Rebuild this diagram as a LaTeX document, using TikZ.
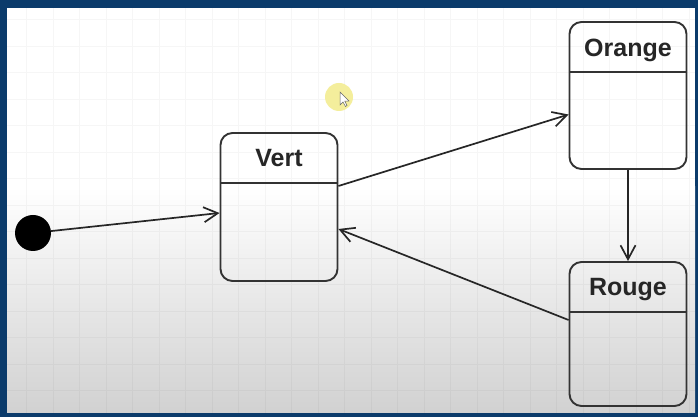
\documentclass[tikz,border=0pt]{standalone}
\usepackage{fontspec}
\setmainfont{Liberation Sans}
\usetikzlibrary{arrows.meta}
\definecolor{framebg}{HTML}{0B3B6B}
\definecolor{cursorhl}{HTML}{F4EE9C}

\begin{document}
\begin{tikzpicture}[
    x=1pt, y=1pt,
    >={Straight Barb[length=14pt,width=15pt]},
    state node/.style={rectangle,rounded corners=12pt,draw=black!80,line width=1.9pt,minimum width=117pt,inner sep=0pt,
        path picture={\draw[line width=1.9pt,black!80] ([yshift=-50pt]path picture bounding box.north west) -- ([yshift=-50pt]path picture bounding box.north east);}},
    title node/.style={anchor=base,font=\fontsize{25}{30}\selectfont\bfseries,text=black!85,inner sep=0pt},
    init node/.style={circle,fill=black,minimum size=36pt,inner sep=0pt},
    trans/.style={->,draw=black!85,line width=1.7pt}
]

% Screen frame and canvas
\useasboundingbox (0,0) rectangle (698,417);
\fill[framebg] (0,0) rectangle (698,417);
\fill[white] (7,4) rectangle (695,409);
\shade[top color=white,bottom color=black!18] (7,4) rectangle (695,230);
\draw[black,opacity=0.035,step=26.5] (7,4) grid (695,409);

% Mouse pointer
\fill[cursorhl] (339,320) circle (14);
\draw[fill=white,draw=black!60,line width=0.5pt] (340,325) -- (340,312) -- (343,315) -- (345.5,310.5) -- (347,311.5) -- (344.8,315.8) -- (349,316) -- cycle;

% States
\node[state node, minimum height=148pt] (vert) at (279,210) {};
\node[state node, minimum height=147pt] (orange) at (628,321.5) {};
\node[state node, minimum height=144pt] (rouge) at (628,83) {};

\node[title node] (verttitle) at ([yshift=-34pt]vert.north) {Vert};
\node[title node] (orangetitle) at ([yshift=-35pt]orange.north) {Orange};
\node[title node] (rougetitle) at ([yshift=-34pt]rouge.north) {Rouge};

% Initial state
\node[init node] (init) at (33,184) {};

% Transitions
\draw[trans] (init) -- ([yshift=-6pt]vert.west);
\draw[trans] ([yshift=21pt]vert.east) -- ([yshift=-19pt]orange.west);
\draw[trans] (orange) -- (rouge);
\draw[trans] ([yshift=14pt]rouge.west) -- ([yshift=-22pt]vert.east);

\end{tikzpicture}
\end{document}
